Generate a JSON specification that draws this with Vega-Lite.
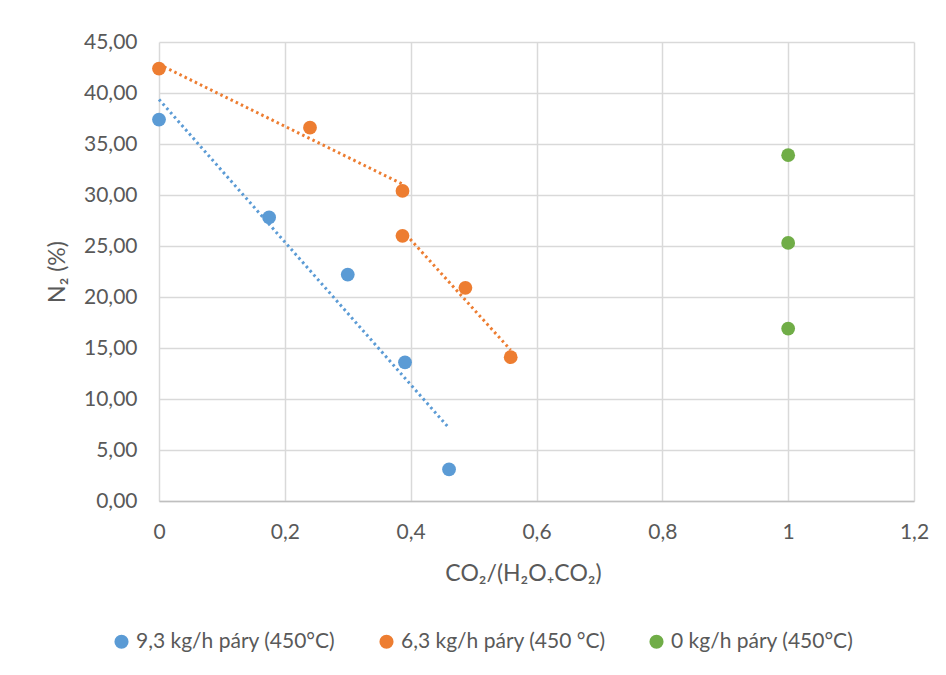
{
  "$schema": "https://vega.github.io/schema/vega-lite/v6.json",
  "autosize": "none",
  "width": 755,
  "height": 459,
  "padding": {"left": 159, "top": 42, "right": 32, "bottom": 174},
  "background": "white",
  "config": {
    "locale": {"number": {"decimal": ",", "thousands": " ", "grouping": [3], "currency": ["", ""]}},
    "font": "Lato",
    "view": {"stroke": null},
    "axis": {
      "labelFont": "Lato", "labelFontSize": 21, "labelColor": "#595959",
      "titleFont": "Lato", "titleFontSize": 23, "titleColor": "#595959", "titleFontWeight": "normal",
      "gridColor": "#D9D9D9", "gridWidth": 1.5, "ticks": false, "labelFlush": false
    },
    "legend": {"labelFont": "Lato", "labelFontSize": 21, "labelColor": "#595959", "labelLimit": 500}
  },
  "data": {
    "values": [
      {"series": "9,3 kg/h páry (450°C)", "seg": "b", "x": 0.0, "y": 37.4},
      {"series": "9,3 kg/h páry (450°C)", "seg": "b", "x": 0.175, "y": 27.8},
      {"series": "9,3 kg/h páry (450°C)", "seg": "b", "x": 0.300, "y": 22.2},
      {"series": "9,3 kg/h páry (450°C)", "seg": "b", "x": 0.391, "y": 13.6},
      {"series": "9,3 kg/h páry (450°C)", "seg": "b", "x": 0.461, "y": 3.1},
      {"series": "6,3 kg/h páry (450 °C)", "seg": "o1", "x": 0.0, "y": 42.4},
      {"series": "6,3 kg/h páry (450 °C)", "seg": "o1", "x": 0.240, "y": 36.6},
      {"series": "6,3 kg/h páry (450 °C)", "seg": "o1", "x": 0.387, "y": 30.4},
      {"series": "6,3 kg/h páry (450 °C)", "seg": "o2", "x": 0.387, "y": 26.0},
      {"series": "6,3 kg/h páry (450 °C)", "seg": "o2", "x": 0.487, "y": 20.9},
      {"series": "6,3 kg/h páry (450 °C)", "seg": "o2", "x": 0.559, "y": 14.1},
      {"series": "0 kg/h páry (450°C)", "seg": "none", "x": 1.0, "y": 33.9},
      {"series": "0 kg/h páry (450°C)", "seg": "none", "x": 1.0, "y": 25.3},
      {"series": "0 kg/h páry (450°C)", "seg": "none", "x": 1.0, "y": 16.9}
    ]
  },
  "layer": [
    {
      "mark": {"type": "point", "filled": true, "opacity": 1, "size": 190},
      "encoding": {
        "x": {"field": "x", "type": "quantitative",
          "scale": {"domain": [0, 1.2], "nice": false},
          "axis": {"values": [0, 0.2, 0.4, 0.6, 0.8, 1.0, 1.2], "format": ".1~f", "title": "CO₂/(H₂O₊CO₂)",
            "labelPadding": 20, "titlePadding": 20, "titleX": 364, "domainColor": "#BFBFBF", "domainWidth": 1.5}},
        "y": {"field": "y", "type": "quantitative",
          "scale": {"domain": [0, 45], "nice": false},
          "axis": {"values": [0, 5, 10, 15, 20, 25, 30, 35, 40, 45], "format": ".2f", "title": "N₂ (%)",
            "labelPadding": 22, "titlePadding": 14, "domain": false}},
        "color": {"field": "series", "type": "nominal",
          "scale": {"domain": ["9,3 kg/h páry (450°C)", "6,3 kg/h páry (450 °C)", "0 kg/h páry (450°C)"], "range": ["#5B9BD5", "#ED7D31", "#70AD47"]},
          "legend": {"title": null, "orient": "none", "legendX": -48, "legendY": 589, "direction": "horizontal",
            "symbolType": "circle", "symbolSize": 200, "symbolOpacity": 1, "symbolStrokeWidth": 0, "columnPadding": 40, "labelOffset": 4, "labelLimit": 500}}
      }
    },
    {
      "transform": [
        {"filter": "datum.seg !== 'none'"},
        {"regression": "y", "on": "x", "groupby": ["series", "seg"]}
      ],
      "mark": {"type": "line", "strokeWidth": 3, "strokeDash": [2.5, 3.2]},
      "encoding": {
        "x": {"field": "x", "type": "quantitative"},
        "y": {"field": "y", "type": "quantitative"},
        "detail": {"field": "seg"},
        "color": {"field": "series", "type": "nominal"}
      }
    }
  ]
}
